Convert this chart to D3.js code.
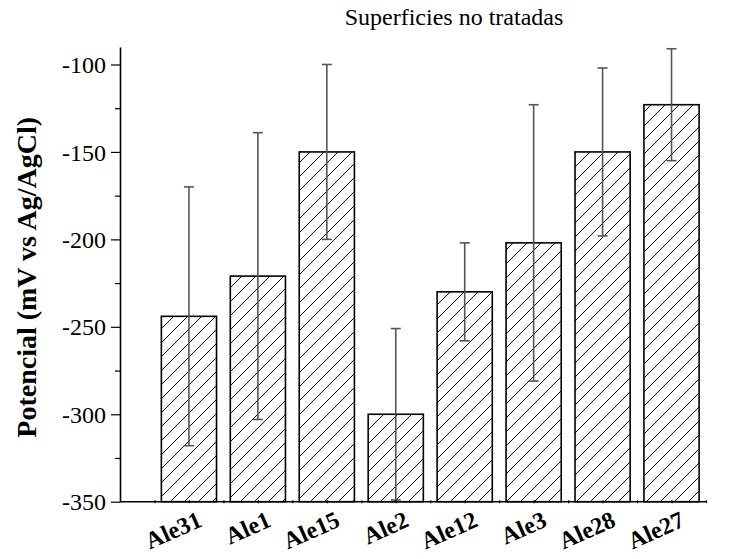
<!DOCTYPE html>
<html>
<head>
<meta charset="utf-8">
<script src="https://cdn.jsdelivr.net/npm/d3@7/dist/d3.min.js"></script>
<style>
  html, body { margin: 0; padding: 0; background: #fff; }
  svg { display: block; }
  text { font-family: "Liberation Serif", "Times New Roman", serif; fill: #000; }
</style>
</head>
<body>
<script>
// Sample names, mean potentials (mV vs Ag/AgCl) and their standard deviations
const categories = ["Ale31", "Ale1", "Ale15", "Ale2", "Ale12", "Ale3", "Ale28", "Ale27"];
const means = [-244, -221, -150, -300, -230, -202, -150, -123];
const errors = [74, 82, 50, 49, 28, 79, 48, 32];
const yMajorTicks = [-350, -300, -250, -200, -150, -100];
const yMinorTicks = [-325, -275, -225, -175, -125];

const width = 732, height = 559;
const serif = "'Liberation Serif', 'Times New Roman', serif";
const svg = d3.select("body").append("svg")
  .attr("width", width).attr("height", height);

// Diagonal hatching used inside each bar
const defs = svg.append("defs");
const pat = defs.append("pattern")
  .attr("id", "hatch")
  .attr("patternUnits", "userSpaceOnUse")
  .attr("width", 14).attr("height", 14);
pat.append("rect").attr("width", 14).attr("height", 14).attr("fill", "#fff");
pat.append("path")
  .attr("d", "M-1,15 L15,-1 M-8,8 L8,-8 M6,22 L22,6")
  .attr("stroke", "#000").attr("stroke-width", 1);

// Categories sit at positions 1..8, the axis runs from 0 to 8.5
const x = d3.scaleLinear().domain([0, 8.5]).range([120, 706]);
const y = d3.scaleLinear().domain([-350, -90]).range([501.7, 47]);
const barW = x(0.8) - x(0);

// Bars
svg.append("g").selectAll("rect")
  .data(means)
  .join("rect")
  .attr("x", (d, i) => x(i + 1) - barW / 2)
  .attr("y", d => y(d))
  .attr("width", barW)
  .attr("height", d => y(-350) - y(d))
  .attr("fill", "url(#hatch)")
  .attr("stroke", "#000")
  .attr("stroke-width", 1.6);

// Error bars
const eb = svg.append("g").attr("stroke", "#555").attr("stroke-width", 1.6).attr("fill", "none");
means.forEach((m, i) => {
  const cx = x(i + 1);
  const top = y(m + errors[i]), bot = y(m - errors[i]);
  eb.append("line").attr("x1", cx).attr("x2", cx).attr("y1", top).attr("y2", bot);
  eb.append("line").attr("x1", cx - 5).attr("x2", cx + 5).attr("y1", top).attr("y2", top);
  eb.append("line").attr("x1", cx - 5).attr("x2", cx + 5).attr("y1", bot).attr("y2", bot);
});

// Y axis: labelled majors and short minors
const yAxis = svg.append("g").attr("transform", "translate(120,0)")
  .call(d3.axisLeft(y).tickValues(yMajorTicks).tickSize(9).tickSizeOuter(0).tickPadding(5)
    .tickFormat(d => String(d)));
yAxis.attr("font-family", serif);
yAxis.selectAll("text").style("font-size", "24px").attr("dy", "0.34em");
svg.append("g").attr("transform", "translate(120,0)")
  .call(d3.axisLeft(y).tickValues(yMinorTicks).tickSize(5).tickFormat(""))
  .select(".domain").remove();

// X axis: small ticks every half step, rotated category labels
const halfSteps = d3.range(0.5, 8.51, 0.5);
svg.append("g").attr("transform", `translate(0,${y(-350) - 1.5})`)
  .call(d3.axisBottom(x).tickValues(halfSteps).tickSize(3).tickSizeOuter(0).tickFormat(""))
  .select(".domain").remove();
svg.append("line")
  .attr("x1", x(0)).attr("x2", x(8.5))
  .attr("y1", y(-350)).attr("y2", y(-350))
  .attr("stroke", "#000").attr("stroke-width", 1.6);

const xAxis = svg.append("g").attr("transform", `translate(0,${y(-350)})`)
  .call(d3.axisBottom(x).tickValues(d3.range(1, 9)).tickSize(0)
    .tickFormat(d => categories[d - 1]));
xAxis.attr("font-family", serif);
xAxis.select(".domain").remove();
xAxis.selectAll("text")
  .style("font-size", "24px").style("font-weight", "bold")
  .attr("text-anchor", "end")
  .attr("dy", null).attr("y", 0)
  .attr("transform", "translate(14,24) rotate(-24)");

svg.selectAll(".domain").attr("stroke-width", 1.6);
svg.selectAll(".tick line").attr("stroke-width", 1.2);

// Y axis title
svg.append("text")
  .attr("transform", `translate(36,${(y(-350) + y(-90)) / 2 + 3}) rotate(-90)`)
  .attr("text-anchor", "middle")
  .style("font-size", "28px").style("font-weight", "bold")
  .text("Potencial (mV vs Ag/AgCl)");

// Chart title
svg.append("text")
  .attr("x", 454).attr("y", 25)
  .attr("text-anchor", "middle")
  .style("font-size", "24px")
  .text("Superficies no tratadas");
</script>
</body>
</html>
